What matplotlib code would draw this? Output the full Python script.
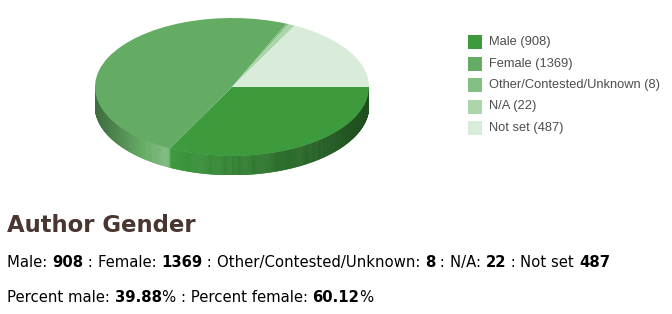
import matplotlib
matplotlib.use('Agg')
import matplotlib.pyplot as plt
import numpy as np
from matplotlib.patches import Rectangle
from matplotlib.collections import PolyCollection
from matplotlib.colors import to_rgb
from matplotlib.font_manager import FontProperties

# ---- data ----
labels = ['Male', 'Female', 'Other/Contested/Unknown', 'N/A', 'Not set']
counts = [908, 1369, 8, 22, 487]
colors = ['#3d9a3d', '#64ac64', '#84bf84', '#acd5ac', '#d9ebd9']
title = 'Author Gender'

W, H = 672, 314
fig = plt.figure(figsize=(W / 100, H / 100), dpi=100)

# full-figure axes in pixel units for text and legend
base = fig.add_axes([0, 0, 1, 1])
base.set_xlim(0, W)
base.set_ylim(H, 0)
base.axis('off')

# ---- 3D-ish pie ----
cx0, cx1 = 95, 369      # ellipse left/right in px
top_y, mid_y = 18, 87   # ellipse top and centre
depth_px = 19
ry = mid_y - top_y
d = depth_px / ry
bottom_px = mid_y + ry + depth_px

pax = fig.add_axes([cx0 / W, 1 - bottom_px / H, (cx1 - cx0) / W, (bottom_px - top_y) / H])
pax.pie(counts, colors=colors, startangle=0, counterclock=False, radius=1,
        wedgeprops=dict(linewidth=0, antialiased=True, zorder=3))
pax.set_aspect('auto')
pax.set_xlim(-1, 1)
pax.set_ylim(-1 - d, 1)
pax.axis('off')

# side wall (front half), strips shaded by horizontal position
bounds = np.cumsum([0] + counts) / sum(counts) * 360
thetas = np.linspace(np.pi, 2 * np.pi, 400)
polys, fcs = [], []
for t0, t1 in zip(thetas[:-1], thetas[1:]):
    tm = 0.5 * (t0 + t1)
    phi = (360 - np.degrees(tm)) % 360      # clockwise angle from 3 o'clock
    idx = np.searchsorted(bounds, phi, side='right') - 1
    idx = min(max(idx, 0), len(counts) - 1)
    xm = np.cos(tm)
    f = np.interp(xm, [-1, -0.47, -0.44, 1], [0.62, 1.18, 1.0, 0.5])
    c = np.array(to_rgb(colors[idx]))
    if f > 1:
        c = c + (1 - c) * (f - 1)
    else:
        c = c * f
    polys.append([(np.cos(t0), np.sin(t0)), (np.cos(t1), np.sin(t1)),
                  (np.cos(t1), np.sin(t1) - d), (np.cos(t0), np.sin(t0) - d)])
    fcs.append(c)
pax.add_collection(PolyCollection(polys, facecolors=fcs, edgecolors=fcs,
                                  linewidths=0.4, zorder=1))

# ---- legend ----
leg_x, leg_y0, leg_dy = 468, 42, 21.5
for i, (lab, n, col) in enumerate(zip(labels, counts, colors)):
    y = leg_y0 + i * leg_dy
    base.add_patch(Rectangle((leg_x, y - 7), 14, 14, facecolor=col, edgecolor='none'))
    base.text(leg_x + 21, y, f'{lab} ({n})', fontsize=9.3, family='Liberation Sans',
              color='#4d4d4d', va='center', ha='left')

# ---- text block ----
base.text(7, 232, title, fontsize=16.4, fontweight='bold', color='#4a3631',
          family='DejaVu Sans', va='baseline')

BODY = 10.7
renderer = fig.canvas.get_renderer()


def advance(s, bold):
    # width of s as the renderer lays it out: measure s + sentinel minus sentinel
    fp = FontProperties(family='DejaVu Sans', size=BODY, weight='bold' if bold else 'normal')
    w1 = renderer.get_text_width_height_descent(s + '|', fp, ismath=False)[0]
    w0 = renderer.get_text_width_height_descent('|', fp, ismath=False)[0]
    return w1 - w0


def rich_line(x, y, parts):
    for s, bold in parts:
        base.text(x, y, s, fontsize=BODY, fontweight='bold' if bold else 'normal',
                  family='DejaVu Sans', color='black', va='baseline', ha='left')
        x += advance(s, bold)


line1 = []
for i, (lab, n) in enumerate(zip(labels, counts)):
    sep = ': ' if lab != 'Not set' else ' '
    line1.append((lab + sep, False))
    line1.append((str(n), True))
    if i < len(labels) - 1:
        line1.append((' : ', False))
rich_line(7, 267, line1)

pct_male = counts[0] / (counts[0] + counts[1]) * 100
pct_female = counts[1] / (counts[0] + counts[1]) * 100
line2 = [('Percent male: ', False), (f'{pct_male:.2f}', True), ('% : Percent female: ', False),
         (f'{pct_female:.2f}', True), ('%', False)]
rich_line(7, 302, line2)

fig.savefig('out.png', dpi=100)
